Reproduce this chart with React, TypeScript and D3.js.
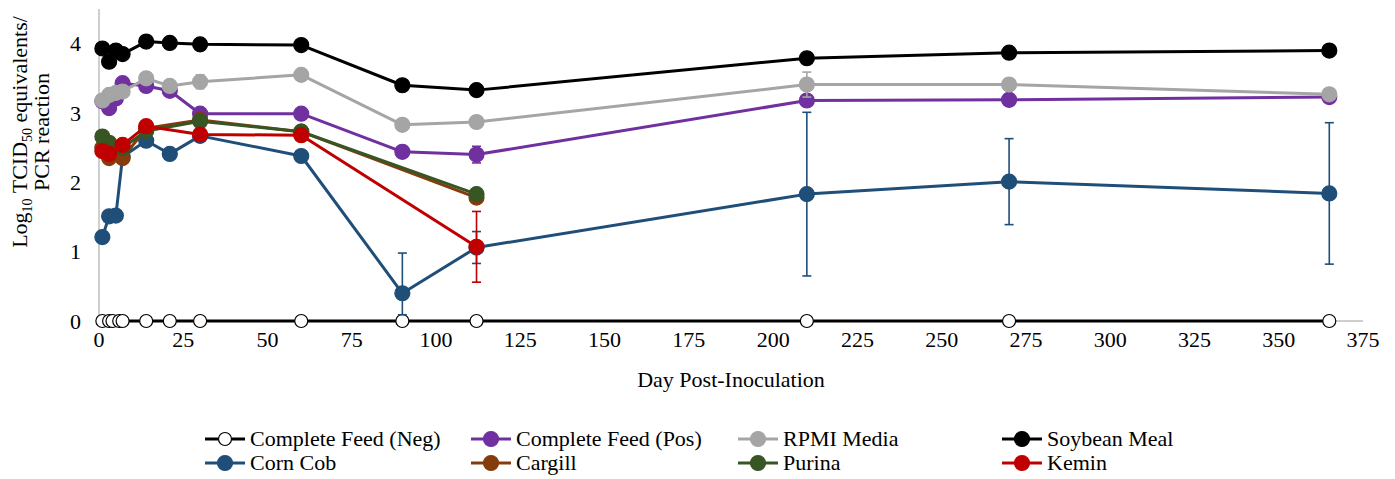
import React from 'react';
import * as d3 from 'd3';

// sampling days
const daysFull = [1, 3, 5, 7, 14, 21, 30, 60, 90, 112, 210, 270, 365];
const daysNeg = [1, 3, 4, 6, 7, 14, 21, 30, 60, 90, 112, 210, 270, 365];
const daysShort = [1, 3, 7, 14, 30, 60, 112];

const negVals = [0, 0, 0, 0, 0, 0, 0, 0, 0, 0, 0, 0, 0, 0];
const posVals = [3.17, 3.07, 3.21, 3.43, 3.39, 3.32, 2.99, 2.99, 2.44, 2.40, 3.18, 3.19, 3.23];
const rpmiVals = [3.18, 3.26, 3.29, 3.31, 3.50, 3.39, 3.45, 3.55, 2.83, 2.87, 3.41, 3.41, 3.27];
const soyVals = [3.93, 3.74, 3.90, 3.85, 4.03, 4.01, 3.99, 3.98, 3.40, 3.33, 3.79, 3.87, 3.90];
const cornVals = [1.21, 1.51, 1.52, 2.37, 2.60, 2.41, 2.67, 2.38, 0.40, 1.06, 1.83, 2.01, 1.84];
const cargillVals = [2.50, 2.35, 2.35, 2.78, 2.90, 2.73, 1.78];
const purinaVals = [2.66, 2.57, 2.50, 2.74, 2.88, 2.73, 1.83];
const keminVals = [2.45, 2.41, 2.54, 2.81, 2.69, 2.68, 1.07];

// error bars (upper / lower half-widths)
const posErr = [0, 0, 0, 0, 0, 0, 0, 0, 0, 0.12, 0, 0, 0];
const rpmiErr = [0, 0, 0, 0, 0, 0, 0.1, 0, 0.07, 0.07, 0.18, 0, 0];
const soyErr = [0, 0, 0, 0, 0, 0, 0, 0, 0, 0, 0.05, 0, 0];
const cornErrUp = [0, 0, 0, 0, 0, 0, 0, 0, 0.58, 0.23, 1.18, 0.62, 1.02];
const cornErrDown = [0, 0, 0, 0, 0, 0, 0, 0, 0.31, 0.23, 1.18, 0.62, 1.02];
const keminErr = [0, 0.09, 0, 0, 0, 0, 0.51];

const xTicks = [0, 25, 50, 75, 100, 125, 150, 175, 200, 225, 250, 275, 300, 325, 350, 375];
const yTicks = [0, 1, 2, 3, 4];

type Series = {
  name: string;
  color: string;
  fill: string;
  days: number[];
  vals: number[];
  up?: number[];
  down?: number[];
  r: number;
};

const series: Series[] = [
  { name: 'Complete Feed (Neg)', color: '#000000', fill: '#ffffff', days: daysNeg, vals: negVals, r: 6.5 },
  { name: 'Complete Feed (Pos)', color: '#7030A0', fill: '#7030A0', days: daysFull, vals: posVals, up: posErr, down: posErr, r: 7.5 },
  { name: 'RPMI Media', color: '#A5A5A5', fill: '#A5A5A5', days: daysFull, vals: rpmiVals, up: rpmiErr, down: rpmiErr, r: 7.5 },
  { name: 'Soybean Meal', color: '#000000', fill: '#000000', days: daysFull, vals: soyVals, up: soyErr, down: soyErr, r: 7.5 },
  { name: 'Corn Cob', color: '#1F4E79', fill: '#1F4E79', days: daysFull, vals: cornVals, up: cornErrUp, down: cornErrDown, r: 7.5 },
  { name: 'Cargill', color: '#843C0C', fill: '#843C0C', days: daysShort, vals: cargillVals, r: 7.5 },
  { name: 'Purina', color: '#375623', fill: '#375623', days: daysShort, vals: purinaVals, r: 7.5 },
  { name: 'Kemin', color: '#C00000', fill: '#C00000', days: daysShort, vals: keminVals, up: keminErr, down: keminErr, r: 7.5 },
];

const W = 1395;
const H = 479;
const left = 99;
const right = 1363;
const top = 9;
const bottom = 321;
const font = "'Liberation Serif', 'Times New Roman', serif";
const fs = 22;

export default function App() {
  const x = d3.scaleLinear().domain([0, 375]).range([left, right]);
  const y = d3.scaleLinear().domain([0, 4.5]).range([bottom, top]);
  const line = d3
    .line<[number, number]>()
    .x((d) => x(d[0]))
    .y((d) => y(d[1]));

  const legendCols = [205, 471, 738, 1002];
  const legendRows = [439, 463];

  return (
    <svg width={W} height={H} style={{ position: 'absolute', left: 0, top: 0, background: '#fff', fontFamily: font }}>
      {/* axes */}
      <line x1={x(0)} x2={x(0)} y1={top} y2={bottom} stroke="#BFBFBF" strokeWidth={1.5} />
      <line x1={left} x2={right} y1={bottom} y2={bottom} stroke="#BFBFBF" strokeWidth={1.5} />
      {yTicks.map((t) => (
        <text key={t} x={81} y={y(t)} dy="0.35em" textAnchor="end" fontSize={fs}>
          {t}
        </text>
      ))}
      {xTicks.map((t) => (
        <text key={t} x={x(t)} y={347} textAnchor="middle" fontSize={fs}>
          {t}
        </text>
      ))}
      <text x={(left + right) / 2} y={387} textAnchor="middle" fontSize={fs}>
        Day Post-Inoculation
      </text>
      <g transform={`translate(0,132) rotate(-90)`}>
        <text y={27} textAnchor="middle" fontSize={fs}>
          Log<tspan fontSize={14} dy={5}>10</tspan>
          <tspan dy={-5}> TCID</tspan>
          <tspan fontSize={14} dy={5}>50</tspan>
          <tspan dy={-5}> equivalents/</tspan>
        </text>
        <text y={49} textAnchor="middle" fontSize={fs}>
          PCR reaction
        </text>
      </g>

      {/* series */}
      {series.map((s) => {
        const pts = s.days.map((d, i) => [d, s.vals[i]] as [number, number]);
        return (
          <g key={s.name}>
            <path d={line(pts) ?? ''} fill="none" stroke={s.color} strokeWidth={3} strokeLinejoin="round" />
            {s.up &&
              pts.map(([d, v], i) => {
                const u = s.up![i];
                const dn = s.down![i];
                if (!u && !dn) return null;
                const y1 = y(v + u);
                const y2 = y(Math.max(0, v - dn));
                return (
                  <g key={i} stroke={s.color} strokeWidth={1.6}>
                    <line x1={x(d)} x2={x(d)} y1={y1} y2={y2} />
                    <line x1={x(d) - 4.5} x2={x(d) + 4.5} y1={y1} y2={y1} />
                    <line x1={x(d) - 4.5} x2={x(d) + 4.5} y1={y2} y2={y2} />
                  </g>
                );
              })}
            {pts.map(([d, v], i) => (
              <circle key={i} cx={x(d)} cy={y(v)} r={s.r} fill={s.fill} stroke={s.color} strokeWidth={1.2} />
            ))}
          </g>
        );
      })}

      {/* legend */}
      {series.map((s, i) => {
        const lx = legendCols[i % 4];
        const ly = legendRows[Math.floor(i / 4)];
        return (
          <g key={s.name}>
            <line x1={lx} x2={lx + 40} y1={ly} y2={ly} stroke={s.color} strokeWidth={3} />
            <circle cx={lx + 20} cy={ly} r={s.r} fill={s.fill} stroke={s.color} strokeWidth={1.2} />
            <text x={lx + 45} y={ly} dy="0.33em" fontSize={fs}>
              {s.name}
            </text>
          </g>
        );
      })}
    </svg>
  );
}
